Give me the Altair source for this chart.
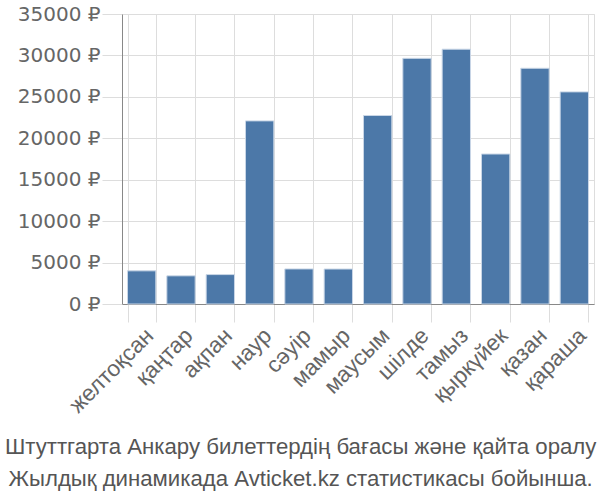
import altair as alt
import pandas as pd

months = ["желтоқсан", "қаңтар", "ақпан", "наур", "сәуір", "мамыр",
          "маусым", "шілде", "тамыз", "қыркүйек", "қазан", "қараша"]
prices = [4000, 3400, 3550, 22100, 4230, 4220, 22750, 29650, 30750, 18100, 28450, 25600]
title_lines = ["Штуттгарта Анкару билеттердің бағасы және қайта оралу",
               "Жылдық динамикада Avticket.kz статистикасы бойынша."]

df = pd.DataFrame({"month": months, "price": prices})

FONT = "Liberation Sans"
YFONT = "DejaVu Sans"

chart = alt.Chart(df).mark_bar(
    color="#4c78a8", stroke="#c9d6e6", strokeWidth=1
).encode(
    x=alt.X("month:N", sort=months, title=None,
            scale=alt.Scale(paddingInner=0.28, paddingOuter=0.14),
            axis=alt.Axis(labelAngle=-45, tickBand="extent", grid=True,
                          labelFontSize=22.5, labelFont=FONT, labelColor="#666",
                          tickSize=18, tickColor="#ddd", domainColor="#888",
                          gridColor="#ddd", labelPadding=2)),
    y=alt.Y("price:Q", title=None,
            scale=alt.Scale(domain=[0, 35000]),
            axis=alt.Axis(values=list(range(0, 35001, 5000)), labelExpr="datum.value + ' ₽'",
                          labelFontSize=20, labelFont=YFONT, labelColor="#666",
                          tickSize=20, tickColor="#ddd", domainColor="#888",
                          gridColor="#ddd", labelPadding=2)),
).properties(
    width=472, height=290,
    autosize=alt.AutoSizeParams(type="none"),
    padding={"left": 122, "top": 14, "right": 6, "bottom": 196},
    title=alt.TitleParams(text=title_lines, orient="bottom", anchor="middle", frame="bounds",
                          font=FONT, fontSize=22.2, fontWeight="normal", color="#555",
                          lineHeight=32, offset=19, dx=-5),
).configure_view(stroke="#ddd")

chart.save("out.html", embed_options={"renderer": "svg", "actions": False})
